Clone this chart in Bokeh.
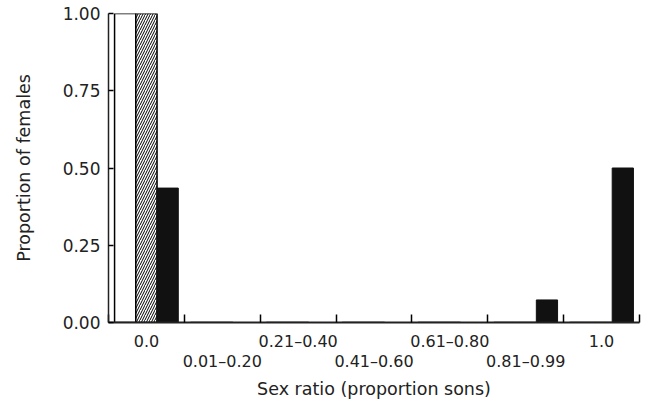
from bokeh.plotting import figure
from bokeh.models import ColumnDataSource, FixedTicker, Range1d
from bokeh.transform import dodge
from bokeh.embed import file_html
from bokeh.resources import INLINE

# ---- data ----
categories = ["0.0", "0.01\u20130.20", "0.21\u20130.40", "0.41\u20130.60",
              "0.61\u20130.80", "0.81\u20130.99", "1.0"]
open_vals = [1.00, 0, 0, 0, 0, 0, 0]
hatched_vals = [1.00, 0, 0, 0, 0, 0, 0]
solid_vals = [0.435, 0, 0, 0, 0, 0.073, 0.50]
y_ticks = [0.0, 0.25, 0.5, 0.75, 1.0]

idx = list(range(len(categories)))
src = ColumnDataSource(dict(idx=idx, cat=categories, open=open_vals,
                            hatched=hatched_vals, solid=solid_vals))

FONT = "DejaVu Sans"

p = figure(width=645, height=405, output_backend="svg", toolbar_location=None,
           x_range=Range1d(0, len(categories)), y_range=Range1d(0, 1.0),
           min_border_left=108, min_border_right=6, min_border_top=13,
           min_border_bottom=83)

bw = 0.28
p.vbar(x=dodge("idx", 0.22), top="open", width=bw, source=src,
       fill_color="white", line_color="black", line_width=1.5)
p.vbar(x=dodge("idx", 0.50), top="hatched", width=bw, source=src,
       fill_color="white", line_color="black", line_width=1.5,
       hatch_pattern="/", hatch_color="black", hatch_scale=5, hatch_weight=1)
p.vbar(x=dodge("idx", 0.78), top="solid", width=bw, source=src,
       fill_color="#111111", line_color="#111111", line_width=1)

# x axis: boundaries as (inward) minor ticks, category labels at centres, staggered
centers = [i + 0.5 for i in idx]
bounds = list(range(len(categories) + 1))
p.xaxis.ticker = FixedTicker(ticks=centers, minor_ticks=bounds)
p.xaxis.major_label_overrides = {c: (lab if i % 2 == 0 else "\n" + lab)
                                 for i, (c, lab) in enumerate(zip(centers, categories))}
p.xaxis.major_tick_in = 0
p.xaxis.major_tick_out = 0
p.xaxis.minor_tick_in = 8
p.xaxis.minor_tick_out = 0
p.xaxis.minor_tick_line_width = 1.5
p.xaxis.axis_line_width = 2
p.xaxis.major_label_standoff = 9
p.xaxis.major_label_text_font_size = "16px"
p.xaxis.major_label_text_line_height = 1.1
p.xaxis.axis_label = "Sex ratio (proportion sons)"
p.xaxis.axis_label_standoff = 5

p.yaxis.ticker = FixedTicker(ticks=y_ticks)
p.yaxis.major_label_overrides = {t: f"{t:.2f}" for t in y_ticks}
p.yaxis.major_tick_in = 5
p.yaxis.major_tick_out = 0
p.yaxis.minor_tick_line_color = None
p.yaxis.axis_line_width = 1.5
p.yaxis.major_tick_line_width = 1.5
p.yaxis.major_label_standoff = 8
p.yaxis.major_label_text_font_size = "17px"
p.yaxis.axis_label = "Proportion of females"
p.yaxis.axis_label_standoff = 26

for ax in (p.xaxis, p.yaxis):
    ax.major_label_text_font = FONT
    ax.major_label_text_color = "#222222"
    ax.axis_label_text_font = FONT
    ax.axis_label_text_font_style = "normal"
    ax.axis_label_text_font_size = "17.5px"
    ax.axis_label_text_color = "#222222"
    ax.axis_line_color = "#222222"

p.xgrid.grid_line_color = None
p.ygrid.grid_line_color = None
p.outline_line_color = None
p.background_fill_color = "white"

open("out.html", "w").write(file_html(p, INLINE))
